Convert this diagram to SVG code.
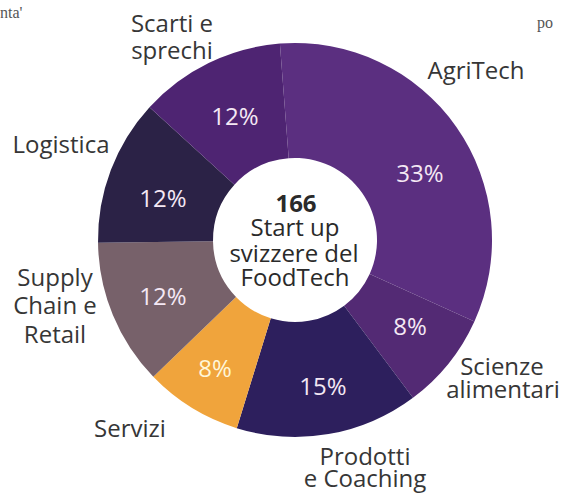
<svg xmlns="http://www.w3.org/2000/svg" width="564" height="499" viewBox="0 0 564 499">
<style>
.lbl{font-family:"Open Sans","Noto Sans","Liberation Sans",sans-serif;font-size:24px;fill:#363636;text-anchor:middle}
.pct{font-family:"Open Sans","Noto Sans","Liberation Sans",sans-serif;font-size:24px;fill:#f4e8f4;text-anchor:middle}
.ctr{font-family:"Open Sans","Noto Sans","Liberation Sans",sans-serif;font-size:24px;fill:#2a2a2a;text-anchor:middle}
.scan{font-family:"Liberation Serif",serif;font-size:16px;fill:#555}
</style>
<rect width="564" height="499" fill="#ffffff"/>
<text class="scan" x="0" y="18">nta'</text>
<text class="scan" x="537" y="28">po</text>

<g id="agritech">
<path d="M279.89,43.59 A197,197 0 0 1 474.41,321.39 L369.68,273.88 A82,82 0 0 0 288.71,158.24 Z" fill="#5b2f80"/>
<text class="pct" x="420" y="182">33%</text>
<text class="lbl" x="476" y="79">AgriTech</text>
</g>
<g id="scienze">
<path d="M474.41,321.39 A197,197 0 0 1 413.00,397.74 L344.12,305.66 A82,82 0 0 0 369.68,273.88 Z" fill="#532a74"/>
<text class="pct" x="410" y="335">8%</text>
<text class="lbl" x="502" y="375">Scienze</text>
<text class="lbl" x="503" y="398">alimentari</text>
</g>
<g id="prodotti">
<path d="M413.00,397.74 A197,197 0 0 1 236.75,428.19 L270.75,318.33 A82,82 0 0 0 344.12,305.66 Z" fill="#2d1f5d"/>
<text class="pct" x="323" y="395">15%</text>
<text class="lbl" x="365" y="465">Prodotti</text>
<text class="lbl" x="365" y="487">e Coaching</text>
</g>
<g id="servizi">
<path d="M236.75,428.19 A197,197 0 0 1 153.30,376.86 L236.02,296.97 A82,82 0 0 0 270.75,318.33 Z" fill="#f0a43c"/>
<text class="pct" x="215" y="377" style="fill:#fff6d8">8%</text>
<text class="lbl" x="130" y="437">Servizi</text>
</g>
<g id="supply">
<path d="M153.30,376.86 A197,197 0 0 1 98.02,242.75 L213.01,241.14 A82,82 0 0 0 236.02,296.97 Z" fill="#77616a"/>
<text class="pct" x="163" y="305">12%</text>
<text class="lbl" x="55" y="286">Supply</text>
<text class="lbl" x="55" y="314">Chain e</text>
<text class="lbl" x="55" y="343">Retail</text>
</g>
<g id="logistica">
<path d="M98.02,242.75 A197,197 0 0 1 149.52,107.16 L234.44,184.71 A82,82 0 0 0 213.01,241.14 Z" fill="#2b2246"/>
<text class="pct" x="163" y="207">12%</text>
<text class="lbl" x="61" y="153">Logistica</text>
</g>
<g id="scarti">
<path d="M149.52,107.16 A197,197 0 0 1 279.89,43.59 L288.71,158.24 A82,82 0 0 0 234.44,184.71 Z" fill="#4e2472"/>
<text class="pct" x="235" y="125">12%</text>
<text class="lbl" x="172" y="32">Scarti e</text>
<text class="lbl" x="172" y="59">sprechi</text>
</g>
<g id="centro">
<text class="ctr" x="296" y="212" style="font-weight:bold">166</text>
<text class="ctr" x="295" y="236">Start up</text>
<text class="ctr" x="294" y="262">svizzere del</text>
<text class="ctr" x="295" y="286">FoodTech</text>
</g>
<g id="connectors"></g>
</svg>
